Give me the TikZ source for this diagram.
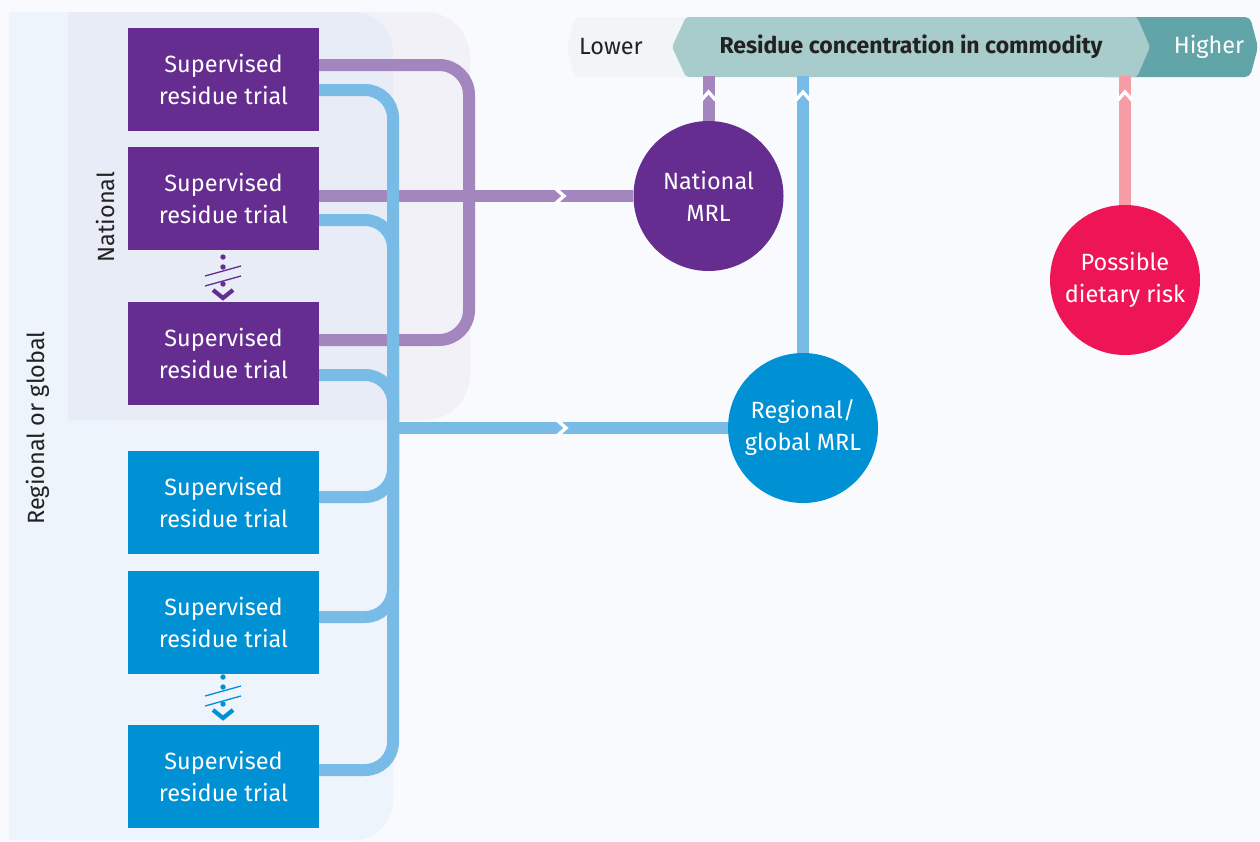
\documentclass[tikz,border=0pt]{standalone}
\usepackage{fontspec}
\setmainfont{Fira Sans}
\definecolor{pagebg}{HTML}{F8FAFD}
\definecolor{regbg}{HTML}{EEF4FB}
\definecolor{natbg}{HTML}{F2F1F7}
\definecolor{ovbg}{HTML}{E8ECF7}
\definecolor{purp}{HTML}{652D90}
\definecolor{blu}{HTML}{0090D4}
\definecolor{lpurp}{HTML}{A386BE}
\definecolor{lblu}{HTML}{78BBE7}
\definecolor{lpink}{HTML}{F59CA5}
\definecolor{risk}{HTML}{EE1556}
\definecolor{barlow}{HTML}{F1F5F7}
\definecolor{barmid}{HTML}{A8CBCC}
\definecolor{barhigh}{HTML}{62A5A8}
\definecolor{ink}{HTML}{222222}
\begin{document}
\begin{tikzpicture}[x=1pt,y=-1pt,
  txt/.style={font=\fontsize{23.5}{32}\selectfont},
  trial/.style={rectangle, minimum width=191, minimum height=103, inner sep=0, text=white, align=center, txt},
  mrl/.style={circle, minimum size=150, inner sep=0, text=white, align=center, txt},
  pline/.style={draw=lpurp, line width=12},
  bline/.style={draw=lblu, line width=12},
  kline/.style={draw=lpink, line width=12},
  chev/.style={draw=white, line width=3.4, line join=miter},
  brk/.pic={
    \fill (0,0) circle (2.7);
    \fill (0,10) circle (2.7);
    \fill (0,27) circle (2.7);
    \draw[line width=1.3] (-18,19) -- (18,9);
    \draw[line width=1.3] (-18,29) -- (18,19);
    \draw[line width=4.2, line join=miter] (-10,33) -- (0,41) -- (10,33);
  }]
\useasboundingbox (0,0) rectangle (1260,841);
\fill[pagebg] (0,0) rectangle (1260,841);
% panels
\fill[regbg, rounded corners=40] (9,12) rectangle (393,840);
\fill[regbg] (9,12) rectangle (100,840);
\fill[natbg, rounded corners=45] (68,12) rectangle (470,420);
\fill[natbg] (68,12) rectangle (200,420);
\begin{scope}
  \clip[rounded corners=40] (9,12) rectangle (393,840);
  \fill[ovbg, rounded corners=45] (68,12) rectangle (470,420);
  \fill[ovbg] (68,12) rectangle (200,420);
\end{scope}
\node[txt, text=ink, rotate=90] (lreg) at (38,428) {Regional or global};
\node[txt, text=ink, rotate=90] (lnat) at (105,217) {National};

% top bar
\fill[barhigh, rounded corners=5] (1100,17) -- (1250,17) -- (1258,47) -- (1250,77) -- (1100,77) -- cycle;
\fill[barlow, rounded corners=5] (700,17) -- (575,17) -- (567,47) -- (575,77) -- (700,77) -- cycle;
\fill[barmid, rounded corners=3] (686,17) -- (1137,17) -- (1150,47) -- (1137,77) -- (686,77) -- (672,47) -- cycle;
\coordinate (barbot) at (0,76);
\node[txt, text=ink] (lower) at (611,47) {Lower};
\node[text=ink, font=\bfseries\fontsize{23}{27}\selectfont] (title) at (911,47) {Residue concentration in commodity};
\node[txt, text=white] (higher) at (1209,47) {Higher};

% boxes
\node[trial, fill=purp] (p1) at (223.5,79.5) {Supervised\\residue trial};
\node[trial, fill=purp] (p2) at (223.5,198.5) {Supervised\\residue trial};
\node[trial, fill=purp] (p3) at (223.5,353.5) {Supervised\\residue trial};
\node[trial, fill=blu] (b1) at (223.5,502.5) {Supervised\\residue trial};
\node[trial, fill=blu] (b2) at (223.5,622.5) {Supervised\\residue trial};
\node[trial, fill=blu] (b3) at (223.5,776.5) {Supervised\\residue trial};

% circles
\node[mrl, fill=purp] (nat) at (708.5,196) {National\\MRL};
\node[mrl, fill=blu] (reg) at (803,428) {Regional/\\global MRL};
\node[mrl, fill=risk] (rsk) at (1125,280) {Possible\\dietary risk};

\coordinate (bus) at (393,428);
% connectors
\draw[pline, rounded corners=30] (p1.east |- 0,65) -- (469,65) -- (469,340) -- (p3.east |- 0,340);
\draw[pline] (p2.east |- nat) -- (nat.west);
\draw[bline, rounded corners=28] (p1.east |- 0,90) -| (bus);
\draw[bline, rounded corners=28] (p2.east |- 0,220) -| (bus);
\draw[bline, rounded corners=28] (p3.east |- 0,375) -| (bus);
\draw[bline, rounded corners=28] (b1.east |- 0,497) -| (bus);
\draw[bline, rounded corners=28] (b2.east |- 0,617) -| (bus);
\draw[bline, rounded corners=28] (b3.east |- 0,770) -| (bus);
\draw[bline] (bus) -- (reg.west);
\draw[pline] (nat.north) -- (nat |- barbot);
\draw[bline] (reg.north) -- (reg |- barbot);
\draw[kline] (rsk.north) -- (rsk |- barbot);

% chevrons
\draw[chev] (556,189) -- (564,196) -- (556,203);
\draw[chev] (558,421) -- (566,428) -- (558,435);
\draw[chev] (701.5,100) -- (708.5,92) -- (715.5,100);
\draw[chev] (796,100) -- (803,92) -- (810,100);
\draw[chev] (1118,100) -- (1125,92) -- (1132,100);

% break marks
\pic[color=purp] at (223,257) {brk};
\pic[color=blu] at (223,677) {brk};
\end{tikzpicture}
\end{document}
